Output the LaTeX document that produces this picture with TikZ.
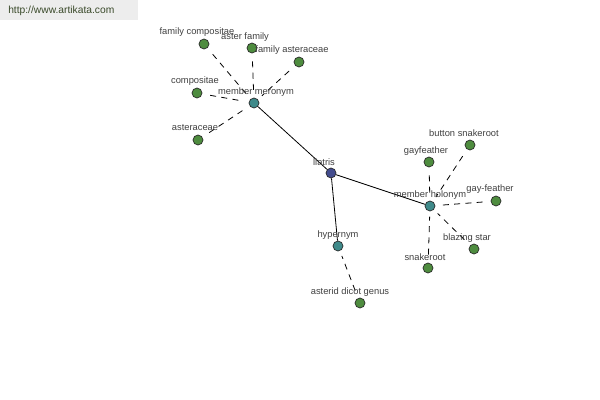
\documentclass[tikz,border=0pt]{standalone}
\usepackage{fontspec}
\setmainfont{Liberation Sans}
\begin{document}
\begin{tikzpicture}[x=0.75pt,y=-0.75pt,
  lbl/.style={font=\fontsize{7}{8}\selectfont,text=black!75,inner sep=0pt},
  dot/.style={circle,draw=black!85,line width=0.5pt,minimum size=7.5pt,inner sep=0pt},
  leaf/.style={dot},
  hub/.style={dot},
  root/.style={dot},
  solidline/.style={draw=black,line width=0.6pt},
  dashline/.style={draw=black,line width=0.6pt,dash pattern=on 4.5pt off 4pt,shorten <=6pt,shorten >=4pt}]
\definecolor{leafc}{HTML}{4E8C3F}
\definecolor{hubc}{HTML}{3F8A8A}
\definecolor{rootc}{HTML}{434C8E}
\definecolor{urlc}{HTML}{3A4A2A}
\tikzset{leaf/.append style={fill=leafc},hub/.append style={fill=hubc},root/.append style={fill=rootc}}
\useasboundingbox (0,0) rectangle (600,400);
\fill[white] (0,0) rectangle (600,400);
\fill[black!7] (0,0) rectangle (138,20);
\node[lbl,anchor=west,text=urlc,font=\fontsize{7.7}{8}\selectfont] (url) at (8,11) {http://www.artikata.com};

\node[root] (liatris) at (331,173) {};
\node[hub] (mero) at (254,103) {};
\node[hub] (holo) at (430,206) {};
\node[hub] (hyper) at (338,246) {};

\node[leaf] (famcomp) at (204,44) {};
\node[leaf] (asterfam) at (252,48) {};
\node[leaf] (famast) at (299,62) {};
\node[leaf] (comp) at (197,93) {};
\node[leaf] (ast) at (198,140) {};
\node[leaf] (gayf) at (429,162) {};
\node[leaf] (button) at (470,145) {};
\node[leaf] (gayf2) at (496,201) {};
\node[leaf] (blazing) at (474,249) {};
\node[leaf] (snake) at (428,268) {};
\node[leaf] (asterid) at (360,303) {};

\draw[solidline] (liatris) -- (mero);
\draw[solidline] (liatris) -- (holo);
\draw[solidline] (liatris) -- (hyper);

\foreach \n in {famcomp,asterfam,famast,comp,ast}
  \draw[dashline] (\n) -- (mero);
\foreach \n in {gayf,button,gayf2,blazing,snake}
  \draw[dashline] (\n) -- (holo);
\draw[dashline] (asterid) -- (hyper);

\node[lbl] (tliatris) at (324,162) {liatris};
\node[lbl] (tmero) at (256,92) {member meronym};
\node[lbl] (tholo) at (430,195) {member holonym};
\node[lbl] (thyper) at (338,235) {hypernym};
\node[lbl] (tfamcomp) at (197,32) {family compositae};
\node[lbl] (tasterfam) at (245,37) {aster family};
\node[lbl] (tfamast) at (292,50) {family asteraceae};
\node[lbl] (tcomp) at (195,81) {compositae};
\node[lbl] (tast) at (195,128) {asteraceae};
\node[lbl] (tgayf) at (426,151) {gayfeather};
\node[lbl] (tbutton) at (464,133) {button snakeroot};
\node[lbl] (tgayf2) at (490,189) {gay-feather};
\node[lbl] (tblazing) at (467,238) {blazing star};
\node[lbl] (tsnake) at (425,257) {snakeroot};
\node[lbl] (tasterid) at (350,292) {asterid dicot genus};
\end{tikzpicture}
\end{document}
